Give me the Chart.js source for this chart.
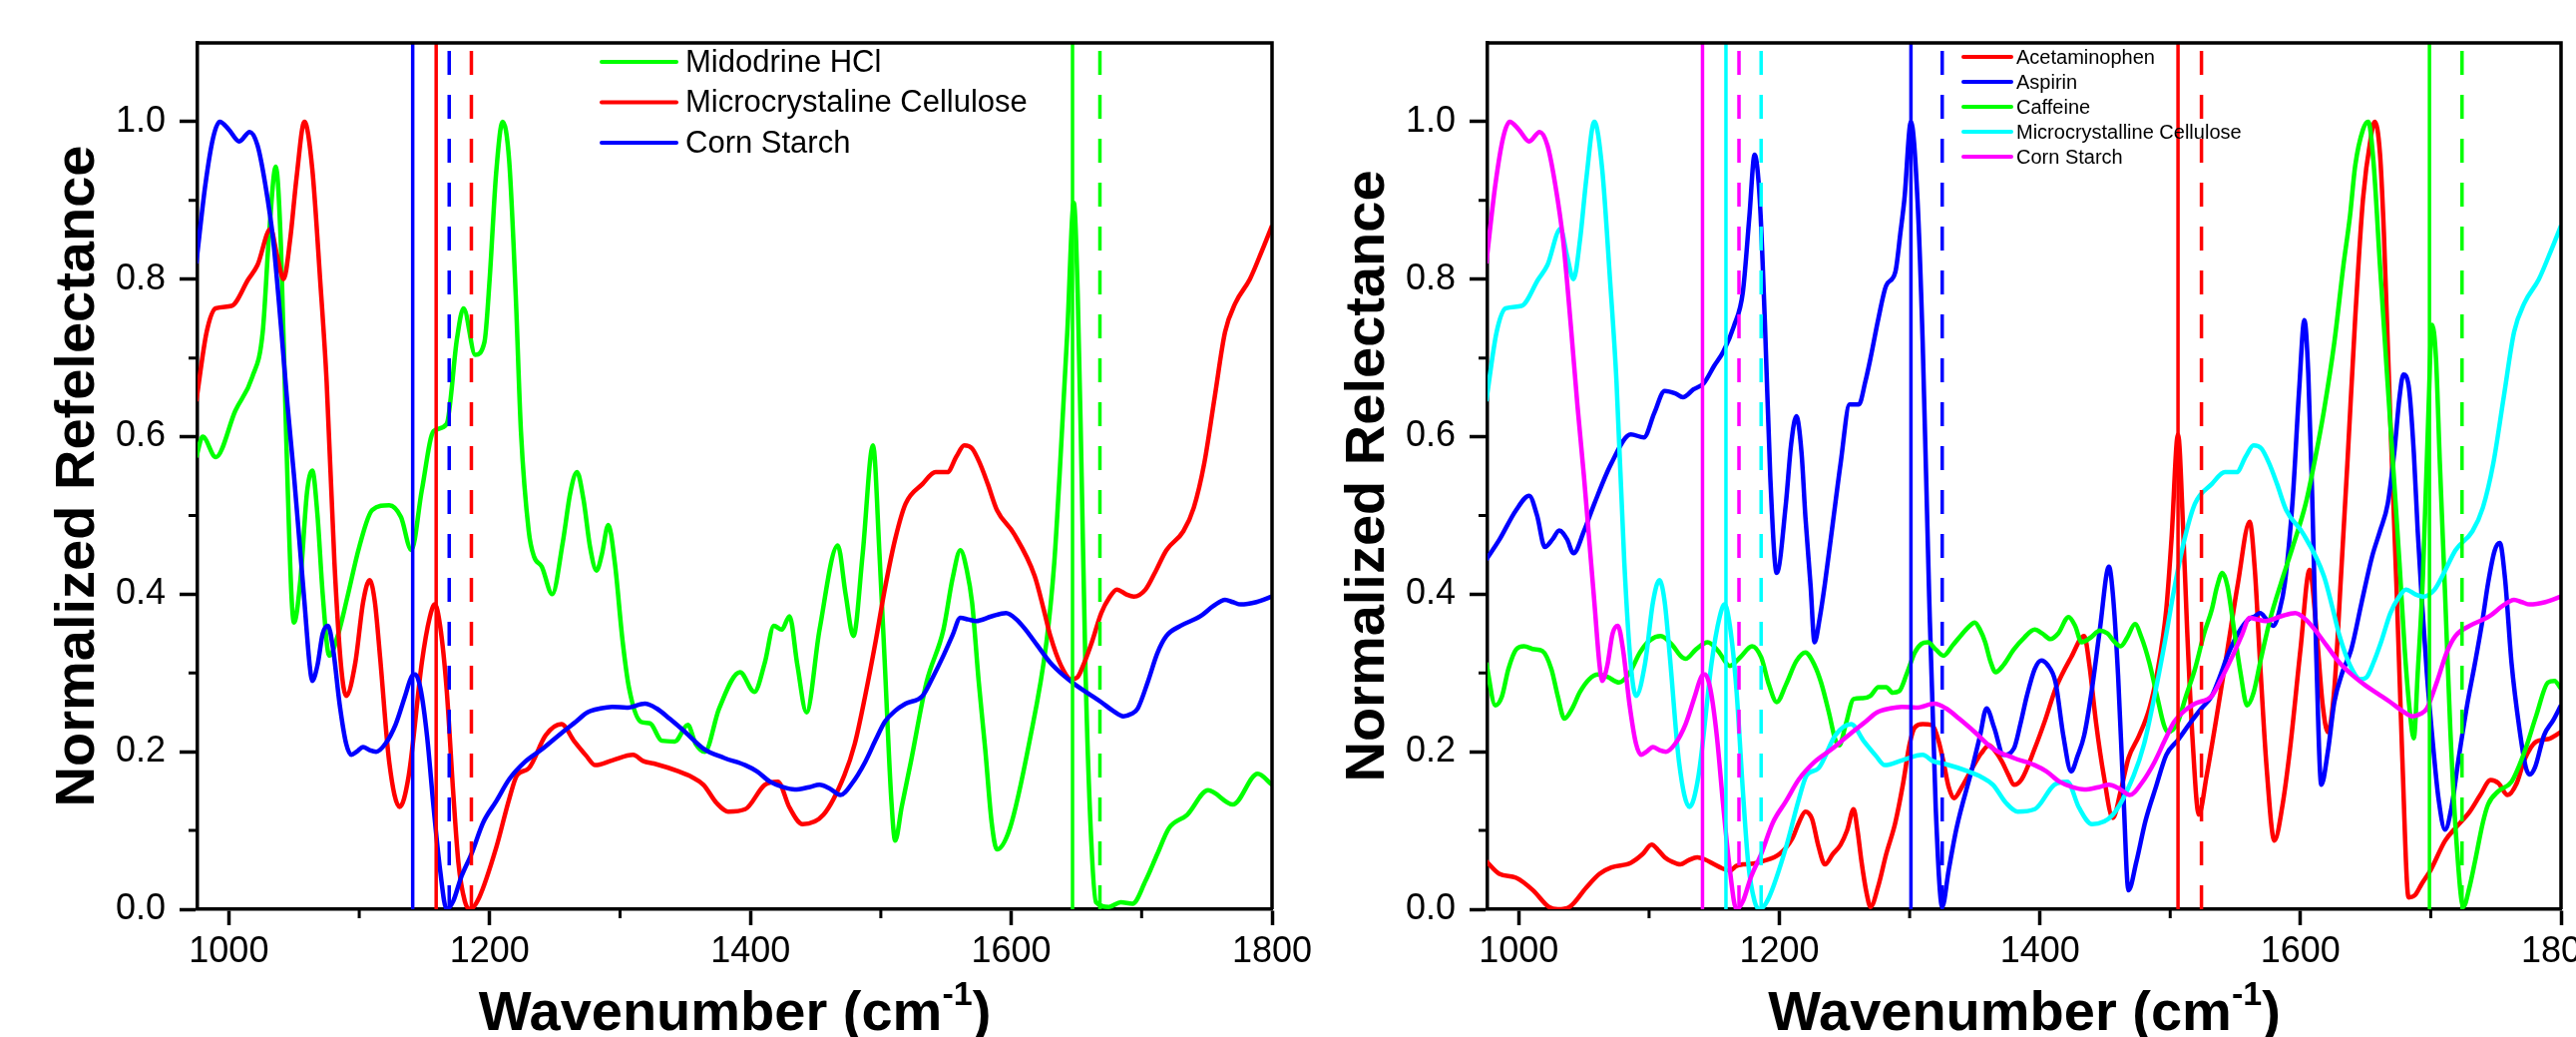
<!DOCTYPE html>
<html>
<head>
<meta charset="utf-8">
<title>Normalized Reflectance</title>
<script src="https://cdn.jsdelivr.net/npm/chart.js@4.4.1/dist/chart.umd.min.js"></script>
<style>
  html, body { margin: 0; padding: 0; background: #fff; }
  #wrap { position: relative; width: 2582px; height: 1039px; overflow: hidden; background: #fff; }
  #leftChart { position: absolute; left: 0; top: 0; }
  #rightChart { position: absolute; left: 1290px; top: 0; }
</style>
</head>
<body>
<div id="wrap">
  <canvas id="leftChart" width="1330" height="1039"></canvas>
  <canvas id="rightChart" width="1292" height="1039"></canvas>
</div>
<script>
// Axis ranges / ticks
const xMin = 976, xMax = 1800;
const xTicks = [1000, 1200, 1400, 1600, 1800];
const xMinorTicks = [1100, 1300, 1500, 1700];
const yMin = 0, yMax = 1.1;
const yTicks = [0, 0.2, 0.4, 0.6, 0.8, 1.0];
const yMinorTicks = [0.1, 0.3, 0.5, 0.7, 0.9];

// Spectra: [wavenumber (cm-1), normalized reflectance]
const midodrine = [[975,0.574],[980,0.60],[990,0.574],[1005,0.633],[1018,0.676],[1026,0.733],[1031,0.86],[1036,0.943],[1040,0.84],[1044,0.6],[1048,0.40],[1050,0.364],[1055,0.42],[1060,0.53],[1064,0.557],[1068,0.50],[1072,0.40],[1077,0.322],[1084,0.35],[1091,0.397],[1100,0.46],[1110,0.507],[1123,0.513],[1132,0.498],[1140,0.456],[1148,0.532],[1157,0.607],[1167,0.616],[1175,0.725],[1180,0.763],[1189,0.704],[1196,0.72],[1200,0.80],[1205,0.935],[1210,1.0],[1215,0.95],[1220,0.78],[1224,0.607],[1230,0.48],[1234,0.448],[1240,0.435],[1248,0.40],[1256,0.465],[1262,0.53],[1267,0.555],[1272,0.52],[1277,0.46],[1282,0.43],[1286,0.45],[1291,0.488],[1296,0.44],[1302,0.34],[1307,0.28],[1316,0.238],[1323,0.236],[1332,0.214],[1342,0.213],[1352,0.234],[1358,0.21],[1365,0.2],[1376,0.255],[1392,0.301],[1403,0.276],[1411,0.313],[1418,0.36],[1424,0.355],[1430,0.372],[1436,0.31],[1443,0.25],[1453,0.355],[1467,0.462],[1473,0.40],[1479,0.347],[1486,0.45],[1494,0.589],[1499,0.45],[1503,0.313],[1508,0.14],[1511,0.087],[1516,0.13],[1523,0.187],[1535,0.288],[1548,0.355],[1555,0.42],[1561,0.456],[1566,0.43],[1570,0.389],[1575,0.29],[1580,0.204],[1585,0.11],[1589,0.076],[1599,0.103],[1614,0.213],[1627,0.339],[1633,0.44],[1637,0.549],[1643,0.733],[1648,0.897],[1651,0.78],[1654,0.55],[1657,0.30],[1661,0.10],[1665,0.009],[1675,0.003],[1684,0.009],[1693,0.007],[1703,0.036],[1712,0.07],[1721,0.103],[1735,0.12],[1751,0.151],[1770,0.133],[1789,0.172],[1800,0.158]];

const mcc = [[975,0.645],[983,0.733],[990,0.763],[1002,0.766],[1015,0.80],[1022,0.818],[1032,0.864],[1037,0.83],[1042,0.80],[1047,0.85],[1052,0.93],[1058,1.0],[1064,0.94],[1070,0.80],[1075,0.67],[1081,0.44],[1086,0.31],[1090,0.271],[1097,0.313],[1103,0.39],[1108,0.418],[1112,0.39],[1116,0.32],[1123,0.187],[1131,0.13],[1138,0.17],[1148,0.313],[1154,0.37],[1158,0.387],[1162,0.36],[1167,0.28],[1172,0.15],[1176,0.06],[1181,0.01],[1185,0.0],[1192,0.015],[1205,0.078],[1215,0.14],[1221,0.17],[1230,0.179],[1243,0.221],[1255,0.235],[1265,0.213],[1274,0.195],[1281,0.183],[1294,0.189],[1310,0.196],[1318,0.188],[1326,0.185],[1345,0.175],[1355,0.168],[1364,0.158],[1374,0.135],[1383,0.124],[1396,0.127],[1411,0.158],[1421,0.162],[1430,0.129],[1440,0.108],[1456,0.12],[1472,0.17],[1480,0.21],[1488,0.271],[1496,0.34],[1503,0.406],[1511,0.47],[1519,0.515],[1532,0.54],[1542,0.555],[1551,0.555],[1558,0.575],[1564,0.589],[1570,0.585],[1576,0.566],[1582,0.54],[1589,0.507],[1602,0.477],[1618,0.423],[1625,0.38],[1630,0.347],[1638,0.31],[1646,0.292],[1651,0.295],[1656,0.313],[1662,0.34],[1669,0.376],[1675,0.395],[1681,0.406],[1688,0.40],[1694,0.397],[1703,0.406],[1711,0.43],[1719,0.456],[1732,0.48],[1740,0.51],[1748,0.566],[1756,0.65],[1764,0.733],[1772,0.77],[1783,0.80],[1792,0.835],[1800,0.868]];

const cornStarch = [[975,0.82],[982,0.92],[988,0.98],[993,1.0],[1000,0.99],[1008,0.975],[1016,0.987],[1022,0.97],[1028,0.92],[1034,0.85],[1040,0.74],[1045,0.64],[1050,0.55],[1054,0.47],[1058,0.39],[1062,0.31],[1064,0.29],[1068,0.31],[1072,0.35],[1076,0.36],[1080,0.33],[1085,0.26],[1090,0.21],[1094,0.196],[1098,0.2],[1103,0.206],[1108,0.202],[1113,0.2],[1120,0.21],[1128,0.235],[1135,0.27],[1140,0.295],[1143,0.298],[1147,0.28],[1152,0.22],[1157,0.13],[1162,0.05],[1167,0.0],[1172,0.01],[1178,0.04],[1186,0.07],[1195,0.11],[1205,0.137],[1215,0.165],[1227,0.187],[1240,0.203],[1256,0.225],[1266,0.238],[1275,0.25],[1285,0.255],[1294,0.257],[1305,0.256],[1319,0.261],[1328,0.255],[1338,0.242],[1350,0.225],[1364,0.204],[1380,0.192],[1396,0.183],[1405,0.175],[1415,0.162],[1425,0.155],[1434,0.152],[1445,0.155],[1453,0.158],[1461,0.153],[1469,0.145],[1478,0.16],[1488,0.187],[1496,0.215],[1503,0.238],[1511,0.252],[1519,0.261],[1532,0.271],[1540,0.295],[1548,0.322],[1555,0.348],[1561,0.37],[1567,0.368],[1573,0.366],[1585,0.372],[1596,0.376],[1604,0.368],[1611,0.355],[1620,0.335],[1630,0.313],[1640,0.297],[1650,0.284],[1660,0.273],[1669,0.263],[1678,0.252],[1686,0.245],[1692,0.248],[1697,0.255],[1705,0.29],[1712,0.325],[1719,0.347],[1730,0.36],[1745,0.372],[1755,0.385],[1764,0.393],[1770,0.39],[1776,0.387],[1788,0.39],[1800,0.397]];

const acetaminophen = [[975,0.061],[985,0.045],[998,0.04],[1011,0.024],[1023,0.003],[1030,0.0],[1039,0.003],[1052,0.028],[1062,0.045],[1071,0.053],[1086,0.059],[1095,0.07],[1102,0.082],[1107,0.075],[1112,0.066],[1118,0.06],[1124,0.057],[1130,0.062],[1137,0.066],[1143,0.063],[1150,0.057],[1156,0.052],[1162,0.049],[1167,0.055],[1172,0.057],[1180,0.058],[1187,0.061],[1200,0.07],[1210,0.09],[1215,0.11],[1220,0.124],[1225,0.115],[1230,0.08],[1235,0.057],[1241,0.07],[1247,0.082],[1252,0.1],[1257,0.127],[1260,0.1],[1263,0.061],[1267,0.02],[1270,0.003],[1276,0.03],[1282,0.07],[1289,0.11],[1295,0.16],[1300,0.21],[1304,0.231],[1310,0.235],[1317,0.234],[1322,0.215],[1326,0.187],[1330,0.155],[1334,0.141],[1340,0.155],[1348,0.179],[1355,0.198],[1361,0.208],[1366,0.2],[1371,0.187],[1376,0.17],[1380,0.158],[1386,0.165],[1396,0.204],[1404,0.24],[1412,0.28],[1424,0.32],[1434,0.347],[1438,0.31],[1443,0.238],[1449,0.17],[1456,0.116],[1462,0.15],[1468,0.192],[1476,0.22],[1484,0.255],[1490,0.3],[1497,0.381],[1501,0.47],[1506,0.603],[1510,0.48],[1513,0.355],[1517,0.22],[1522,0.12],[1528,0.17],[1535,0.238],[1544,0.33],[1552,0.414],[1561,0.492],[1565,0.43],[1569,0.313],[1574,0.18],[1580,0.087],[1586,0.13],[1592,0.204],[1600,0.33],[1607,0.431],[1612,0.36],[1617,0.26],[1621,0.225],[1626,0.28],[1631,0.42],[1636,0.566],[1642,0.75],[1648,0.902],[1654,0.98],[1657,1.0],[1661,0.96],[1664,0.86],[1669,0.62],[1674,0.397],[1678,0.2],[1683,0.015],[1688,0.018],[1693,0.032],[1700,0.05],[1711,0.087],[1720,0.105],[1730,0.124],[1738,0.145],[1746,0.164],[1752,0.16],[1759,0.145],[1766,0.16],[1772,0.19],[1781,0.213],[1790,0.216],[1800,0.225]];

const aspirin = [[975,0.444],[985,0.469],[998,0.507],[1008,0.525],[1014,0.50],[1020,0.46],[1026,0.47],[1031,0.481],[1037,0.47],[1042,0.452],[1050,0.48],[1058,0.515],[1071,0.566],[1086,0.603],[1096,0.599],[1104,0.63],[1112,0.658],[1120,0.655],[1126,0.65],[1134,0.66],[1142,0.668],[1150,0.69],[1157,0.708],[1165,0.74],[1172,0.784],[1177,0.88],[1181,0.958],[1185,0.9],[1189,0.74],[1193,0.55],[1198,0.427],[1205,0.515],[1209,0.59],[1213,0.626],[1217,0.58],[1220,0.498],[1224,0.41],[1227,0.339],[1231,0.37],[1235,0.414],[1241,0.49],[1247,0.566],[1254,0.641],[1261,0.641],[1266,0.67],[1270,0.70],[1276,0.75],[1282,0.792],[1289,0.809],[1293,0.86],[1296,0.902],[1301,1.0],[1306,0.902],[1310,0.72],[1315,0.397],[1320,0.13],[1325,0.003],[1330,0.05],[1336,0.103],[1348,0.179],[1354,0.22],[1359,0.255],[1365,0.23],[1372,0.196],[1380,0.204],[1385,0.235],[1390,0.271],[1396,0.305],[1401,0.316],[1406,0.31],[1412,0.288],[1418,0.22],[1424,0.175],[1429,0.195],[1434,0.221],[1440,0.28],[1446,0.355],[1453,0.435],[1456,0.4],[1460,0.297],[1464,0.15],[1468,0.024],[1474,0.06],[1481,0.112],[1489,0.155],[1497,0.196],[1506,0.215],[1516,0.238],[1524,0.255],[1532,0.271],[1538,0.295],[1544,0.322],[1552,0.35],[1560,0.368],[1565,0.372],[1569,0.376],[1574,0.368],[1579,0.36],[1584,0.38],[1588,0.414],[1594,0.52],[1599,0.66],[1603,0.748],[1606,0.68],[1609,0.524],[1612,0.33],[1616,0.158],[1621,0.2],[1626,0.263],[1632,0.3],[1639,0.33],[1647,0.39],[1655,0.448],[1661,0.48],[1667,0.515],[1672,0.58],[1676,0.65],[1679,0.679],[1683,0.665],[1687,0.58],[1690,0.48],[1693,0.397],[1697,0.3],[1702,0.204],[1706,0.14],[1711,0.101],[1716,0.13],[1721,0.187],[1728,0.26],[1734,0.313],[1740,0.37],[1744,0.414],[1749,0.455],[1753,0.465],[1757,0.42],[1762,0.313],[1768,0.23],[1773,0.18],[1776,0.171],[1780,0.18],[1787,0.221],[1794,0.24],[1800,0.259]];

const caffeine = [[975,0.313],[982,0.259],[987,0.27],[992,0.305],[998,0.33],[1004,0.334],[1012,0.33],[1018,0.328],[1025,0.305],[1030,0.27],[1035,0.242],[1041,0.255],[1047,0.276],[1054,0.292],[1061,0.298],[1068,0.295],[1077,0.288],[1085,0.3],[1093,0.326],[1101,0.342],[1109,0.347],[1118,0.335],[1124,0.322],[1128,0.318],[1136,0.33],[1145,0.339],[1153,0.328],[1162,0.309],[1170,0.32],[1179,0.334],[1186,0.32],[1192,0.285],[1198,0.263],[1205,0.285],[1213,0.315],[1220,0.326],[1227,0.31],[1232,0.288],[1238,0.25],[1243,0.215],[1246,0.208],[1251,0.235],[1257,0.267],[1264,0.268],[1270,0.271],[1276,0.282],[1282,0.282],[1287,0.275],[1292,0.277],[1298,0.3],[1304,0.326],[1309,0.337],[1314,0.339],[1320,0.33],[1326,0.322],[1333,0.335],[1339,0.347],[1345,0.358],[1350,0.364],[1354,0.355],[1358,0.339],[1362,0.315],[1366,0.301],[1372,0.31],[1380,0.33],[1388,0.345],[1396,0.355],[1402,0.35],[1408,0.343],[1414,0.35],[1422,0.371],[1427,0.36],[1432,0.339],[1439,0.345],[1446,0.354],[1452,0.35],[1457,0.34],[1462,0.334],[1467,0.345],[1473,0.362],[1478,0.345],[1484,0.313],[1490,0.27],[1495,0.235],[1498,0.225],[1502,0.228],[1506,0.238],[1512,0.27],[1519,0.305],[1526,0.35],[1532,0.381],[1536,0.41],[1540,0.427],[1544,0.41],[1549,0.355],[1554,0.3],[1559,0.259],[1564,0.275],[1569,0.313],[1577,0.37],[1585,0.414],[1594,0.46],[1604,0.515],[1611,0.57],[1618,0.633],[1626,0.72],[1633,0.818],[1638,0.88],[1642,0.944],[1648,0.99],[1652,1.0],[1656,0.95],[1661,0.818],[1666,0.69],[1671,0.566],[1676,0.44],[1680,0.33],[1684,0.25],[1687,0.217],[1690,0.3],[1694,0.423],[1698,0.62],[1701,0.742],[1704,0.7],[1707,0.566],[1711,0.4],[1715,0.229],[1720,0.08],[1725,0.003],[1730,0.03],[1734,0.061],[1740,0.11],[1744,0.133],[1752,0.15],[1762,0.162],[1772,0.2],[1781,0.246],[1790,0.288],[1795,0.29],[1800,0.28]];

// Peak markers: [solid, dashed]
const midodrineMarks = [1647, 1668];
const mccMarks = [1159, 1186];
const cornStarchMarks = [1141, 1169];
const acetaminophenMarks = [1506, 1524];
const aspirinMarks = [1301, 1325];
const caffeineMarks = [1699, 1724];

const GREEN = '#00ff00', RED = '#ff0000', BLUE = '#0000ff', CYAN = '#00ffff', MAGENTA = '#ff00ff';
const FONT = "'Liberation Sans', Arial, sans-serif";

function spectrum(label, pts, color, order) {
    return {
        label: label,
        data: pts.map(p => ({ x: p[0], y: p[1] })),
        borderColor: color,
        backgroundColor: color,
        borderWidth: 4.5,
        pointRadius: 0,
        cubicInterpolationMode: 'monotone',
        fill: false,
        order: order
    };
}

function markers(vals, color) {
    return vals.map((v, i) => ({
        label: '',
        data: [{ x: v, y: yMin }, { x: v, y: yMax }],
        borderColor: color,
        borderWidth: 3.5,
        borderDash: i ? [24, 20] : [],
        pointRadius: 0,
        order: 0
    }));
}

// frame, minor ticks, in-plot legend and x title with superscript
const decor = {
    id: 'decor',
    afterDraw(chart, args, opts) {
        const { ctx, chartArea: a, scales: { x, y } } = chart;
        ctx.save();
        ctx.strokeStyle = '#000';
        ctx.lineWidth = 3.5;
        ctx.beginPath();
        ctx.moveTo(a.left, a.top);
        ctx.lineTo(a.right, a.top);
        ctx.lineTo(a.right, a.bottom);
        ctx.stroke();

        // minor ticks
        ctx.lineWidth = 3;
        ctx.beginPath();
        xMinorTicks.forEach(v => {
            const px = x.getPixelForValue(v);
            ctx.moveTo(px, a.bottom);
            ctx.lineTo(px, a.bottom + 9);
        });
        yMinorTicks.forEach(v => {
            const py = y.getPixelForValue(v);
            ctx.moveTo(a.left - 9, py);
            ctx.lineTo(a.left, py);
        });
        ctx.stroke();

        // legend
        const lg = opts.legend;
        ctx.font = lg.fontSize + 'px ' + FONT;
        ctx.textBaseline = 'middle';
        ctx.textAlign = 'left';
        ctx.fillStyle = '#000';
        ctx.lineWidth = 4;
        ctx.lineCap = 'round';
        let row = 0;
        chart.data.datasets.forEach(ds => {
            if (!ds.label) return;
            const yy = lg.y + row * lg.rowH;
            ctx.strokeStyle = ds.borderColor;
            ctx.beginPath();
            ctx.moveTo(lg.x, yy);
            ctx.lineTo(lg.x + lg.lineLen, yy);
            ctx.stroke();
            ctx.fillText(ds.label, lg.x + lg.lineLen + lg.gap, yy + 1);
            row++;
        });

        // x axis title
        const cx = (a.left + a.right) / 2;
        const base = opts.titleBaseline;
        const mainFont = 'bold 56px ' + FONT;
        const supFont = 'bold 34px ' + FONT;
        ctx.textBaseline = 'alphabetic';
        ctx.font = mainFont;
        const w1 = ctx.measureText('Wavenumber (cm').width;
        const w3 = ctx.measureText(')').width;
        ctx.font = supFont;
        const w2 = ctx.measureText('-1').width;
        let xx = cx - (w1 + w2 + w3) / 2;
        ctx.font = mainFont;
        ctx.fillText('Wavenumber (cm', xx, base);
        xx += w1;
        ctx.font = supFont;
        ctx.fillText('-1', xx, base - 25);
        xx += w2;
        ctx.font = mainFont;
        ctx.fillText(')', xx, base);
        ctx.restore();
    }
};

function makePanel(canvasId, datasets, opts) {
    return new Chart(document.getElementById(canvasId), {
        type: 'line',
        data: { datasets: datasets },
        options: {
            responsive: false,
            animation: false,
            devicePixelRatio: 1,
            layout: { padding: { top: 43, right: opts.padRight, left: 0, bottom: 0 } },
            plugins: {
                legend: { display: false },
                tooltip: { enabled: false },
                decor: { legend: opts.legend, titleBaseline: 1032 }
            },
            scales: {
                x: {
                    type: 'linear',
                    min: xMin,
                    max: xMax,
                    afterBuildTicks: s => { s.ticks = xTicks.map(v => ({ value: v })); },
                    afterFit: s => { s.height = 128; s.paddingLeft = 0; s.paddingRight = 0; },
                    ticks: {
                        autoSkip: false,
                        maxRotation: 0,
                        padding: 5,
                        color: '#000',
                        font: { family: FONT, size: 36 },
                        callback: v => String(v)
                    },
                    grid: { drawOnChartArea: false, drawTicks: true, tickLength: 16, tickWidth: 3.5, tickColor: '#000' },
                    border: { display: true, color: '#000', width: 3.5 }
                },
                y: {
                    type: 'linear',
                    min: yMin,
                    max: yMax,
                    afterBuildTicks: s => { s.ticks = yTicks.map(v => ({ value: v })); },
                    afterFit: s => { s.width = opts.axisWidth; s.paddingTop = 0; s.paddingBottom = 0; },
                    ticks: {
                        autoSkip: false,
                        padding: 14,
                        color: '#000',
                        font: { family: FONT, size: 36 },
                        callback: v => v.toFixed(1)
                    },
                    grid: { drawOnChartArea: false, drawTicks: true, tickLength: 18, tickWidth: 3.5, tickColor: '#000' },
                    border: { display: true, color: '#000', width: 3.5 },
                    title: {
                        display: true,
                        text: opts.yTitle,
                        color: '#000',
                        font: { family: FONT, size: 56, weight: 'bold' },
                        padding: { top: opts.titlePad, bottom: 0 }
                    }
                }
            }
        },
        plugins: [decor]
    });
}

makePanel('leftChart', [
    spectrum('Midodrine HCl', midodrine, GREEN, 3),
    spectrum('Microcrystaline Cellulose', mcc, RED, 2),
    spectrum('Corn Starch', cornStarch, BLUE, 1),
    ...markers(cornStarchMarks, BLUE),
    ...markers(mccMarks, RED),
    ...markers(midodrineMarks, GREEN)
], {
    padRight: 55,
    axisWidth: 198,
    titlePad: 45,
    yTitle: 'Normalized Refelectance',
    legend: { x: 603, y: 62, rowH: 40.5, lineLen: 75, gap: 9, fontSize: 31 }
});

makePanel('rightChart', [
    spectrum('Acetaminophen', acetaminophen, RED, 5),
    spectrum('Aspirin', aspirin, BLUE, 4),
    spectrum('Caffeine', caffeine, GREEN, 3),
    spectrum('Microcrystalline Cellulose', mcc, CYAN, 2),
    spectrum('Corn Starch', cornStarch, MAGENTA, 1),
    ...markers(cornStarchMarks, MAGENTA),
    ...markers(mccMarks, CYAN),
    ...markers(aspirinMarks, BLUE),
    ...markers(acetaminophenMarks, RED),
    ...markers(caffeineMarks, GREEN)
], {
    padRight: 15,
    axisWidth: 201,
    titlePad: 48,
    yTitle: 'Normalized Relectance',
    legend: { x: 678, y: 57, rowH: 25, lineLen: 48, gap: 5, fontSize: 20 }
});
</script>
</body>
</html>
